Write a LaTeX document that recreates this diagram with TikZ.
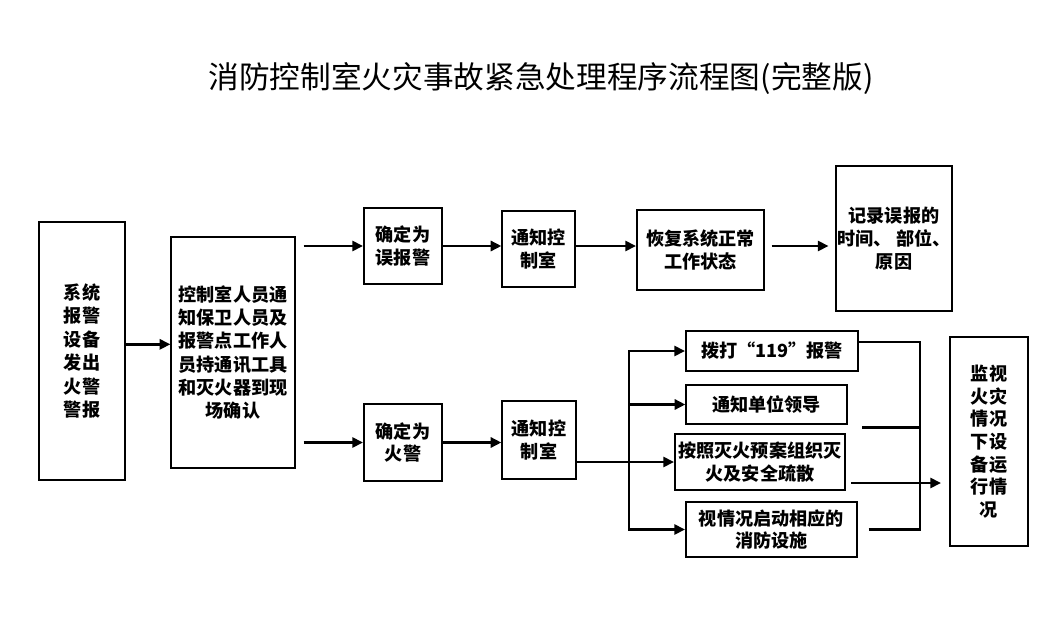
\documentclass[tikz,border=0pt]{standalone}
\usepackage{fontspec}
\setmainfont{Noto Sans CJK SC}
\usetikzlibrary{arrows.meta, positioning}

\begin{document}
\begin{tikzpicture}[
  x=0.75pt, y=-0.75pt,
  box/.style={draw, line width=1.5pt, align=center, inner sep=1pt, font=\fontsize{13.6}{17}\selectfont\bfseries},
  thinbox/.style={box, line width=0.9pt},
  wh/.style 2 args={minimum width=#1*0.75pt, minimum height=#2*0.75pt},
  line/.style={line width=2.2pt},
  arrow/.style={line, -{Triangle[length=8pt, width=7.5pt]}}
]
  \useasboundingbox (0,0) rectangle (1056,624);
  \node[font=\fontsize{23}{27}\selectfont] (title) at (541,78) {消防控制室火灾事故紧急处理程序流程图(完整版)};

  \node[box, wh={86}{258}, font=\fontsize{13.6}{17.6}\selectfont\bfseries] (sys) at (82,351) {系统\\报警\\设备\\发出\\火警\\警报};
  \node[thinbox, wh={124}{231}, font=\fontsize{13.6}{17.3}\selectfont\bfseries] (ctrl) at (233,352.5) {控制室人员通\\知保卫人员及\\报警点工作人\\员持通讯工具\\和灭火器到现\\场确认};
  \node[box, wh={78}{76}] (wb) at (403,246) {确定为\\误报警};
  \node[thinbox, wh={73}{76}] (tz1) at (538.5,249) {通知控\\制室};
  \node[box, wh={127}{80}] (hf) at (700.5,250) {恢复系统正常\\工作状态};
  \node[box, wh={114}{145}] (jl) at (894,238.5) {记录误报的\\时间、 部位、\\原因};
  \node[box, wh={78}{77}] (hj) at (403,442.5) {确定为\\火警};
  \node[thinbox, wh={74}{78}] (tz2) at (539,440) {通知控\\制室};
  \node[box, wh={172}{40}] (a) at (772,351) {拨打“119”报警};
  \node[thinbox, wh={161}{39}] (b) at (766.5,404.5) {通知单位领导};
  \node[box, wh={170}{56}] (c) at (760,462) {按照灭火预案组织灭\\火及安全疏散};
  \node[box, wh={171}{55}] (d) at (771.5,529.5) {视情况启动相应的\\消防设施};
  \node[box, wh={78}{209}] (jk) at (989,441.5) {监视\\火灾\\情况\\下设\\备运\\行情\\况};

  \coordinate (lbus) at (629,0);
  \coordinate (rbus) at (920,0);
  \coordinate (ra) at ([yshift=6.75pt]a.east);
  \coordinate (rb) at ([xshift=11pt, yshift=-17pt]b.east);
  \coordinate (rc) at ([xshift=4pt, yshift=-15.75pt]c.east);
  \coordinate (rd) at ([xshift=8pt]d.east);

  \draw[arrow] ([yshift=5pt]sys.east) -- ([yshift=5pt]sys.east -| ctrl.west);
  \draw[arrow, shorten <=6pt] (ctrl.east |- wb) -- (wb);
  \draw[arrow, shorten <=6pt] (ctrl.east |- hj) -- (hj);
  \draw[arrow] (wb) -- (wb -| tz1.west);
  \draw[arrow] (tz1.east |- wb) -- (hf.west |- wb);
  \draw[arrow, shorten <=5pt, shorten >=5pt] (hf.east |- wb) -- (jl.west |- wb);
  \draw[arrow] (hj) -- (hj -| tz2.west);
  \draw[arrow] (tz2.east |- c) -- (c);
  \draw[line, line cap=rect] (lbus |- a) -- (lbus |- d);
  \draw[arrow] (lbus |- a) -- (a);
  \draw[arrow] (lbus |- b) -- (b);
  \draw[arrow] (lbus |- d) -- (d);
  \draw[line] (ra) -- (rbus |- ra);
  \draw[line] (rb) -- (rbus |- rb);
  \draw[line] (rd) -- (rbus |- rd);
  \draw[line, line cap=rect] (rbus |- ra) -- (rbus |- rd);
  \draw[arrow, shorten >=6pt] (rc) -- (rc -| jk.west);
\end{tikzpicture}
\end{document}
